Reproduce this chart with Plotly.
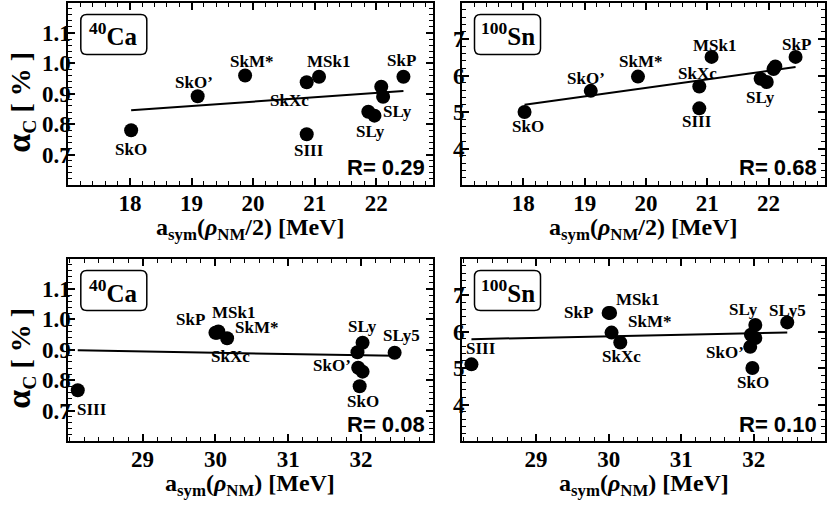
import plotly.graph_objects as go

# ---------------- data ----------------
names = ["SkO", "SkO'", "SkM*", "SkXc", "MSk1", "SIII", "SkP", "SLy4", "SLy5", "SLy6", "SLy7"]
asym_half = [18.02, 19.10, 19.87, 20.87, 21.07, 20.87, 22.44, 22.08, 22.11, 21.87, 21.97]
asym_nm = [31.98, 31.95, 30.04, 30.16, 30.02, 28.11, 30.00, 32.02, 32.46, 31.96, 32.02]
alpha_ca = [0.780, 0.892, 0.960, 0.938, 0.956, 0.767, 0.956, 0.923, 0.890, 0.841, 0.828]
alpha_sn = [5.00, 5.58, 5.97, 5.70, 6.51, 5.10, 6.51, 6.18, 6.25, 5.91, 5.82]

fit_ca_half = [0.846, 0.909]
fit_sn_half = [5.20, 6.23]
fit_ca_nm = [0.898, 0.880]
fit_sn_nm = [5.79, 5.97]

r_values = ["0.29", "0.68", "0.08", "0.10"]
nuclei = ["<sup>40</sup>Ca", "<sup>100</sup>Sn", "<sup>40</sup>Ca", "<sup>100</sup>Sn"]
x_ticks_half = [18, 19, 20, 21, 22]
x_ticks_nm = [29, 30, 31, 32]
y_ticks_ca = [0.7, 0.8, 0.9, 1.0, 1.1]
y_ticks_sn = [4, 5, 6, 7]

# ---------------- layout helpers ----------------
W, H = 830, 509
SERIF = "Liberation Serif"
SANS = "Liberation Sans"


def PX(px):
    return px / W


def PY(py):
    return 1 - py / H


# panel pixel boxes: (x0, x1, y0(top), y1(bottom))
panels = [
    dict(box=(68.3, 433.0, 2.5, 185.0), xr=[17.0, 22.92], yr=[0.6, 1.2]),
    dict(box=(462.0, 825.0, 2.5, 185.0), xr=[17.0, 22.92], yr=[3, 8]),
    dict(box=(68.3, 432.5, 258.5, 441.0), xr=[27.98, 32.98], yr=[0.6, 1.2]),
    dict(box=(462.0, 825.0, 258.5, 441.0), xr=[27.98, 32.98], yr=[3, 8]),
]
xs_list = [asym_half, asym_half, asym_nm, asym_nm]
ys_list = [alpha_ca, alpha_sn, alpha_ca, alpha_sn]
fits = [fit_ca_half, fit_sn_half, fit_ca_nm, fit_sn_nm]
xtv = [x_ticks_half, x_ticks_half, x_ticks_nm, x_ticks_nm]
ytv = [y_ticks_ca, y_ticks_sn, y_ticks_ca, y_ticks_sn]
yfmt = ["{:.1f}", "{:d}", "{:.1f}", "{:d}"]
yminor = [0.02, 0.2, 0.02, 0.2]

# label placement (styling): name -> (text, dx px, dy px down)
label_pos = [
    {"SkO": ("SkO", 0, 19), "SkO'": ("SkO’", -4, -14), "SkM*": ("SkM*", 6, -14),
     "MSk1": ("MSk1", 9, -15), "SkXc": ("SkXc", -17, 18), "SIII": ("SIII", 2, 16),
     "SkP": ("SkP", -2, -16), "SLy5": ("SLy", 14, 15), "SLy7": ("SLy", -4, 16)},
    {"SkO": ("SkO", 3, 14), "SkO'": ("SkO’", -5, -12), "SkM*": ("SkM*", 3, -15),
     "SkXc": ("SkXc", -2, -13), "MSk1": ("MSk1", 3, -11), "SIII": ("SIII", -2, 13),
     "SkP": ("SkP", 1, -12), "SLy7": ("SLy", -6, 15)},
    {"SIII": ("SIII", 14, 19), "SkP": ("SkP", -25, -13), "MSk1": ("MSk1", 17, -20),
     "SkM*": ("SkM*", 38, -4), "SkXc": ("SkXc", 3, 18), "SLy4": ("SLy", 0, -16),
     "SLy5": ("SLy5", 7, -17), "SkO'": ("SkO’", -25, 13), "SkO": ("SkO", 3, 15)},
    {"SIII": ("SIII", 10, -16), "SkP": ("SkP", -30, 0), "MSk1": ("MSk1", 27, -13),
     "SkM*": ("SkM*", 38, -11), "SkXc": ("SkXc", 1, 14), "SLy4": ("SLy", -12, -15),
     "SLy5": ("SLy5", 0, -12), "SkO'": ("SkO’", -25, 6), "SkO": ("SkO", 1, 14)},
]

fig = go.Figure()
annotations = []
shapes = []
layout_axes = {}

for i, p in enumerate(panels):
    n = "" if i == 0 else str(i + 1)
    xa, ya = "x" + n, "y" + n
    x0, x1, y0, y1 = p["box"]
    xs, ys = xs_list[i], ys_list[i]

    fig.add_trace(go.Scatter(
        x=[min(xs), max(xs)], y=fits[i], mode="lines",
        line=dict(color="black", width=2), xaxis=xa, yaxis=ya, showlegend=False,
        hoverinfo="skip"))
    fig.add_trace(go.Scatter(
        x=xs, y=ys, mode="markers", text=names,
        marker=dict(color="black", size=14, line=dict(width=0)),
        xaxis=xa, yaxis=ya, showlegend=False))

    common = dict(showgrid=False, zeroline=False, showline=True, linecolor="black",
                  linewidth=2, mirror="allticks", ticks="inside", ticklen=7,
                  tickwidth=1.5, tickcolor="black",
                  tickfont=dict(family=SERIF, size=23, color="black", weight="bold"))
    layout_axes["xaxis" + n] = dict(
        common, domain=[PX(x0), PX(x1)], range=p["xr"], anchor=ya,
        tickmode="array", tickvals=xtv[i], ticktext=[str(v) for v in xtv[i]],
        ticklabelstandoff=-4,
        minor=dict(tickmode="linear", tick0=0, dtick=0.2, ticks="inside",
                   ticklen=4, tickwidth=1.2, tickcolor="black"))
    layout_axes["yaxis" + n] = dict(
        common, domain=[PY(y1), PY(y0)], range=p["yr"], anchor=xa,
        tickmode="array", tickvals=ytv[i],
        ticktext=[yfmt[i].format(v) for v in ytv[i]],
        ticklabelstandoff=-9,
        minor=dict(tickmode="linear", tick0=0, dtick=yminor[i], ticks="inside",
                   ticklen=4, tickwidth=1.2, tickcolor="black"))

    # point labels
    for name, (txt, dx, dy) in label_pos[i].items():
        k = names.index(name)
        annotations.append(dict(
            x=xs[k], y=ys[k], xref=xa, yref=ya, text=txt, showarrow=False,
            xshift=dx, yshift=-dy,
            font=dict(family=SERIF, size=17, color="black", weight="bold")))

    # R value
    annotations.append(dict(
        x=PX(x1 - 6), y=PY(y1 - 17), xref="paper", yref="paper",
        xanchor="right", yanchor="middle", text="R= " + r_values[i],
        showarrow=False, font=dict(family=SANS, size=22, color="black", weight="bold")))

    # nucleus box
    bx0, by0 = x0 + 12.5, y0 + 12
    bx1, by1 = bx0 + 66, by0 + 40
    r = 6
    path = (f"M {PX(bx0 + r)},{PY(by0)} L {PX(bx1 - r)},{PY(by0)} "
            f"Q {PX(bx1)},{PY(by0)} {PX(bx1)},{PY(by0 + r)} L {PX(bx1)},{PY(by1 - r)} "
            f"Q {PX(bx1)},{PY(by1)} {PX(bx1 - r)},{PY(by1)} L {PX(bx0 + r)},{PY(by1)} "
            f"Q {PX(bx0)},{PY(by1)} {PX(bx0)},{PY(by1 - r)} L {PX(bx0)},{PY(by0 + r)} "
            f"Q {PX(bx0)},{PY(by0)} {PX(bx0 + r)},{PY(by0)} Z")
    shapes.append(dict(type="path", path=path, xref="paper", yref="paper",
                       line=dict(color="black", width=1.5), fillcolor="white", layer="below"))
    annotations.append(dict(
        x=PX((bx0 + bx1) / 2), y=PY((by0 + by1) / 2), xref="paper", yref="paper",
        text=nuclei[i], showarrow=False, xanchor="center", yanchor="middle",
        font=dict(family=SERIF, size=25, color="black", weight="bold")))

    # x title
    xt = ("a<sub>sym</sub>(<i>ρ</i><sub>NM</sub>/2) [MeV]" if i < 2
          else "a<sub>sym</sub>(<i>ρ</i><sub>NM</sub>) [MeV]")
    annotations.append(dict(
        x=PX((x0 + x1) / 2), y=PY(y1 + 44), xref="paper", yref="paper",
        text=xt, showarrow=False, xanchor="center", yanchor="middle",
        font=dict(family=SERIF, size=24, color="black", weight="bold")))

    # y title (left panels only)
    if i in (0, 2):
        annotations.append(dict(
            x=PX(20), y=PY((y0 + y1) / 2 + 9), xref="paper", yref="paper",
            text="<span style='font-size:34px'>α</span><sub>C</sub> [ % ]",
            showarrow=False, textangle=-90,
            xanchor="center", yanchor="middle",
            font=dict(family=SERIF, size=28, color="black", weight="bold")))

fig.update_layout(
    width=W, height=H, margin=dict(l=0, r=0, t=0, b=0),
    paper_bgcolor="white", plot_bgcolor="white",
    annotations=annotations, shapes=shapes, **layout_axes)

fig.write_html("out.html", config={"displayModeBar": False},
               post_script="document.body.style.margin='0px';")
